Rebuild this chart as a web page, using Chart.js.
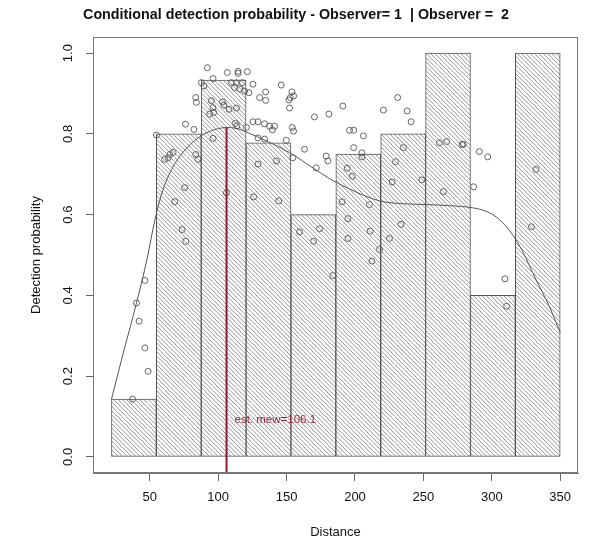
<!DOCTYPE html>
<html><head><meta charset="utf-8">
<script src="https://cdn.jsdelivr.net/npm/chart.js@4.4.1/dist/chart.umd.min.js"></script>
<style>html,body{margin:0;padding:0;background:#fff}#wrap{width:592px;height:540px}</style>
</head><body><div id="wrap"><canvas id="c" width="592" height="540"></canvas></div>
<script>
// ---- data ----
const binBreaks = [22, 54.8, 87.6, 120.4, 153.2, 186, 218.8, 251.6, 284.4, 317.2, 350];
const binHeights = [0.143, 0.8, 0.933, 0.778, 0.6, 0.75, 0.8, 1.0, 0.4, 1.0];

const obsDistance = [37.4,40.3,42.2,46.4,46.4,48.8,54.9,60.9,63.4,64.6,67,68.2,73.6,75.5,76.3,76.1,82.3,83.6,85.3,83.6,84.1,87.7,89.6,92.1,93.8,95,96.2,96.7,96.2,96.2,103.1,104.2,107.9,113.3,106,106.7,109.6,112,113.3,114.5,114.5,115.7,117.7,119.3,121.3,122.5,125.4,112.5,113.7,120.6,125.4,129.1,133.9,137.6,139.6,141.2,129.1,133.9,129.1,142.5,125.9,144.2,130.3,134.7,134.7,146.1,151.7,152.7,153.9,155.1,152.2,154.2,155.1,149.8,154.6,159.5,163.1,169.7,170.4,171.7,174.1,179,180.2,180.9,183.8,191.1,190.6,194.3,198,194.8,194.8,196,199,199,205,206.2,205,210.6,211.1,212.3,217.9,220.8,225.2,227.2,229.6,231.2,233.7,235.4,238.1,241,248.8,261.7,264.6,267,278.3,279.2,286.7,290.9,297,309.6,310.8,329,332.3];
const obsProb = [0.143,0.381,0.336,0.437,0.270,0.212,0.797,0.737,0.741,0.749,0.754,0.632,0.563,0.667,0.534,0.824,0.811,0.749,0.737,0.89,0.878,0.927,0.919,0.964,0.849,0.882,0.865,0.853,0.937,0.789,0.879,0.871,0.861,0.864,0.654,0.952,0.927,0.915,0.927,0.955,0.95,0.911,0.927,0.906,0.954,0.902,0.923,0.826,0.82,0.816,0.83,0.83,0.825,0.819,0.81,0.819,0.79,0.787,0.725,0.733,0.644,0.634,0.89,0.883,0.904,0.921,0.884,0.89,0.904,0.894,0.864,0.816,0.807,0.784,0.741,0.557,0.762,0.534,0.842,0.716,0.565,0.745,0.733,0.849,0.449,0.869,0.632,0.715,0.695,0.59,0.541,0.809,0.809,0.766,0.753,0.795,0.743,0.625,0.559,0.485,0.514,0.859,0.541,0.681,0.731,0.89,0.576,0.766,0.857,0.83,0.686,0.778,0.657,0.781,0.774,0.774,0.669,0.756,0.743,0.441,0.373,0.57,0.712];

const curveDistance = [22,31,40.3,48,53,57,62,70,80,90,100,107,115,121,135,152,170,181,195,218,235,252,270,286,296,305.5,315,322.5,332.3,342,350];
const curveProb = [0.143,0.262,0.381,0.49,0.575,0.632,0.683,0.735,0.775,0.80,0.813,0.816,0.812,0.804,0.783,0.754,0.714,0.69,0.665,0.634,0.627,0.625,0.622,0.617,0.608,0.588,0.551,0.509,0.439,0.373,0.308];

const meanDistance = 106.1;
const meanProb = 0.816;
const meanLabel = 'est. mew=106.1';

const xTicks = [50, 100, 150, 200, 250, 300, 350];
const yTicks = [0, 0.2, 0.4, 0.6, 0.8, 1.0];
const yTickLabels = ['0.0', '0.2', '0.4', '0.6', '0.8', '1.0'];

const titleText = 'Conditional detection probability - Observer= 1  | Observer =  2';
const xTitle = 'Distance';
const yTitle = 'Detection probability';

// ---- derived ----
const binCenters = binHeights.map((h, i) => (binBreaks[i] + binBreaks[i + 1]) / 2);
const X_MIN = 8.5, X_MAX = 363, Y_MIN = -0.04, Y_MAX = 1.04;

// hatch pattern (lines running top-left to bottom-right, ~4.3px apart)
function makeHatch() {
  const s = 13, n = 3;
  const c = document.createElement('canvas');
  c.width = s; c.height = s;
  const g = c.getContext('2d');
  g.fillStyle = '#ffffff';
  g.fillRect(0, 0, s, s);
  g.strokeStyle = '#8a8a8a';
  g.lineWidth = 0.9;
  for (let k = -n; k <= n; k++) {
    const o = k * s / n;
    g.beginPath();
    g.moveTo(o, 0);
    g.lineTo(o + s, s);
    g.stroke();
  }
  return g.createPattern(c, 'repeat');
}

const AXIS_FONT = 'Liberation Sans, Arial, sans-serif';

const framePlugin = {
  id: 'frame',
  afterDraw(chart) {
    const {ctx, chartArea: a, scales} = chart;
    ctx.save();
    ctx.strokeStyle = '#777';
    ctx.lineWidth = 1;
    ctx.strokeRect(a.left + 0.5, a.top + 0.5, a.right - a.left - 1, a.bottom - a.top - 1);
    // main title
    ctx.fillStyle = '#111';
    ctx.font = 'bold 14.3px ' + AXIS_FONT;
    ctx.textAlign = 'center';
    ctx.textBaseline = 'middle';
    ctx.fillText(titleText, 296, 15);
    // y tick labels (rotated, as in R)
    const ys = scales.y;
    ctx.font = '13px ' + AXIS_FONT;
    ys.ticks.forEach((t, i) => {
      const py = ys.getPixelForValue(t.value);
      ctx.save();
      ctx.translate(68, py);
      ctx.rotate(-Math.PI / 2);
      ctx.fillText(yTickLabels[i], 0, 0);
      ctx.restore();
    });
    // mean label
    const xs = scales.x;
    ctx.fillStyle = '#9b2335';
    ctx.font = '11.5px ' + AXIS_FONT;
    ctx.textAlign = 'left';
    ctx.fillText(meanLabel, xs.getPixelForValue(meanDistance) + 8, ys.getPixelForValue(0.092));
    ctx.restore();
  }
};

new Chart(document.getElementById('c'), {
  data: {
    datasets: [
      {
        type: 'line', order: 0,
        data: [{x: meanDistance, y: Y_MIN}, {x: meanDistance, y: meanProb}],
        borderColor: '#8e1a2c', borderWidth: 2, pointRadius: 0
      },
      {
        type: 'line', order: 1,
        data: curveDistance.map((d, i) => ({x: d, y: curveProb[i]})),
        borderColor: '#555', borderWidth: 1, pointRadius: 0,
        cubicInterpolationMode: 'monotone'
      },
      {
        type: 'scatter', order: 2,
        data: obsDistance.map((d, i) => ({x: d, y: obsProb[i]})),
        pointStyle: 'circle', pointRadius: 3, borderWidth: 0.9,
        borderColor: '#555', backgroundColor: 'rgba(0,0,0,0)'
      },
      {
        type: 'bar', order: 3,
        data: binCenters.map((c, i) => ({x: c, y: binHeights[i]})),
        backgroundColor: makeHatch(), borderColor: '#555', borderWidth: 1,
        borderSkipped: false, barPercentage: 1, categoryPercentage: 1
      }
    ]
  },
  options: {
    responsive: false, animation: false, devicePixelRatio: 1,
    layout: {padding: {left: 0, right: 14, top: 37, bottom: 0}},
    plugins: {
      legend: {display: false}, tooltip: {enabled: false}, title: {display: false}
    },
    scales: {
      x: {
        type: 'linear', min: X_MIN, max: X_MAX, offset: false,
        afterBuildTicks: s => { s.ticks = xTicks.map(v => ({value: v})); },
        afterFit: s => { s.height = 67; },
        grid: {display: true, offset: false, drawOnChartArea: false, drawTicks: true, tickLength: 8, color: '#666'},
        border: {display: true, color: '#777'},
        ticks: {color: '#111', font: {family: AXIS_FONT, size: 13}, padding: 9, maxRotation: 0, autoSkip: false},
        title: {display: true, text: xTitle, color: '#111', font: {family: AXIS_FONT, size: 13}, padding: {top: 0, bottom: 0}}
      },
      y: {
        type: 'linear', min: Y_MIN, max: Y_MAX,
        afterBuildTicks: s => { s.ticks = yTicks.map(v => ({value: v})); },
        afterFit: s => { s.width = 93; },
        grid: {display: true, drawOnChartArea: false, drawTicks: true, tickLength: 7, color: '#666'},
        border: {display: true, color: '#777'},
        ticks: {display: false},
        title: {display: true, text: yTitle, color: '#111', font: {family: AXIS_FONT, size: 13}, padding: {top: 29, bottom: 0}}
      }
    }
  },
  plugins: [framePlugin]
});
</script></body></html>
